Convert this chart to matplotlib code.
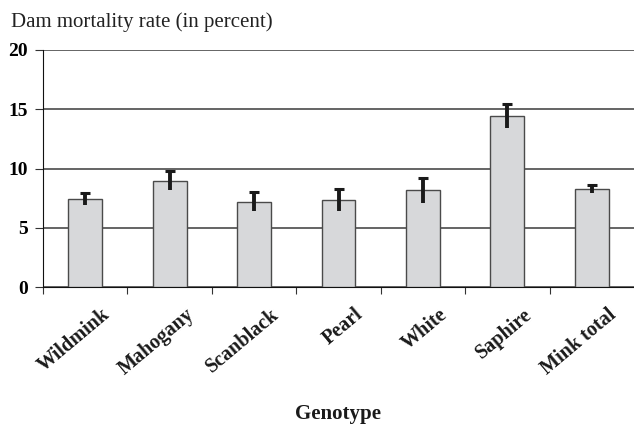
import matplotlib
matplotlib.use("Agg")
import matplotlib.pyplot as plt
import matplotlib.transforms as mtransforms
import numpy as np

genotypes = ["Wildmink", "Mahogany", "Scanblack", "Pearl", "White", "Saphire", "Mink total"]
mortality = [7.45, 8.95, 7.2, 7.35, 8.15, 14.45, 8.25]
err = [0.5, 0.8, 0.8, 0.9, 1.05, 1.0, 0.35]

plt.rcParams['font.family'] = ['Liberation Serif', 'DejaVu Serif']

fig = plt.figure(figsize=(6.34, 4.24), dpi=100)
ax = fig.add_axes([43/634, 1-287/424, 1-43/634, (287-50)/424])

x = np.arange(len(genotypes))
m = np.array(mortality)
e = np.array(err)
ax.bar(x, m, width=0.4, color='#d7d8da', edgecolor='#4a4a4a', linewidth=1.0, zorder=3)
# error bars: line through the bar top, cap only at the upper end
ax.vlines(x, m - e, m + e, color='#1a1a1a', linewidth=2.8, zorder=4)
ax.plot(x, m + e, linestyle='none', marker='_', markersize=7, markeredgewidth=2.2,
        color='#1a1a1a', zorder=5)

ax.set_xlim(-0.5, len(genotypes) - 0.5)
ax.set_ylim(0, 20)
ax.set_yticks([0, 5, 10, 15, 20])
ax.yaxis.grid(True, color='#3a3a3a', linewidth=1.1, zorder=0)
ax.set_axisbelow(True)

for s in ['top', 'right']:
    ax.spines[s].set_visible(False)
ax.spines['left'].set_color('#111111')
ax.spines['bottom'].set_color('#111111')

ax.set_xticks(np.arange(-0.5, len(genotypes) - 0.5, 1.0))
ax.set_xticklabels([])
ax.tick_params(axis='x', which='major', length=5, color='#333333')
ax.tick_params(axis='y', length=6, color='#333333', labelsize=14, pad=5)
for lab in ax.get_yticklabels():
    lab.set_fontweight('bold')

# rotated category labels
offset = mtransforms.ScaledTranslation(22/100, -25/100, fig.dpi_scale_trans)
trans = ax.get_xaxis_transform() + offset
for xi, name in zip(x, genotypes):
    ax.text(xi, 0, name, transform=trans, rotation=40, rotation_mode='anchor',
            ha='right', va='center', fontsize=14.5, fontweight='bold', color='#1a1a1a')

fig.text(11/634, 1-27/424, "Dam mortality rate (in percent)", fontsize=15,
         ha='left', va='baseline', color='#222222')
fig.text((43+634)/2/634, 1-419/424, "Genotype", fontsize=15, fontweight='bold',
         ha='center', va='baseline', color='#1a1a1a')

fig.savefig("out.png", dpi=100)
